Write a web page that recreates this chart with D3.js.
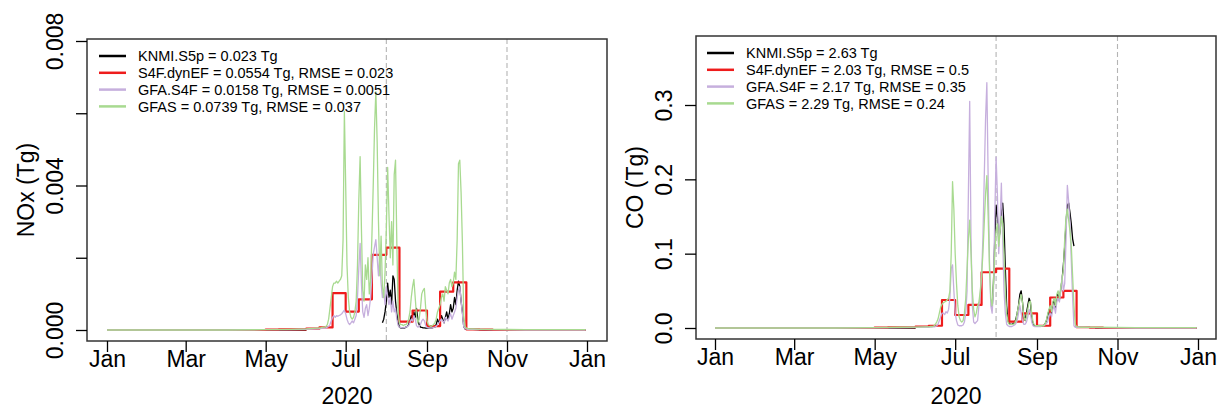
<!DOCTYPE html>
<html><head><meta charset="utf-8">
<script src="https://cdn.jsdelivr.net/npm/d3@7"></script>
<style>
body{margin:0;background:#fff}
svg{display:block}
text{font-family:"Liberation Sans",Arial,sans-serif;fill:#000}
</style>
</head><body>
<svg id="c" width="1218" height="410"></svg>
<script>
// ---------------- DATA ----------------
const seriesNames = ["KNMI.S5p", "S4F.dynEF", "GFA.S4F", "GFAS"];
const seriesColors = ["#000000", "#ee1c1c", "#c6afdd", "#a8da90"];

const noxLegend = ["KNMI.S5p = 0.023 Tg", "S4F.dynEF = 0.0554 Tg, RMSE = 0.023",
  "GFA.S4F = 0.0158 Tg, RMSE = 0.0051", "GFAS = 0.0739 Tg, RMSE = 0.037"];
const coLegend = ["KNMI.S5p = 2.63 Tg", "S4F.dynEF = 2.03 Tg, RMSE = 0.5",
  "GFA.S4F = 2.17 Tg, RMSE = 0.35", "GFAS = 2.29 Tg, RMSE = 0.24"];

const xTickDates = ["2020-01-01","2020-03-01","2020-05-01","2020-07-01","2020-09-01","2020-11-01","2021-01-01"];
const xTickLabels = ["Jan","Mar","May","Jul","Sep","Nov","Jan"];
const xTitle = "2020";
const markerDates = ["2020-08-01","2020-11-01"];

const noxTicks = [0, 0.002, 0.004, 0.006, 0.008];
const noxTickLabels = ["0.000", "", "0.004", "", "0.008"];
const coTicks = [0, 0.1, 0.2, 0.3];
const coTickLabels = ["0.0", "0.1", "0.2", "0.3"];

// dates of the line series: quiet period points, daily values 2020-06-09 .. 2020-10-06, quiet points after
const quietBefore = ["2020-01-01","2020-04-01","2020-05-01","2020-05-20","2020-06-01"];
const dailyStart = "2020-06-09";
const dailyCount = 120;
const quietAfter = ["2020-10-15","2020-11-15","2020-12-31"];

// S4F.dynEF is dekadal (10-day blocks, 36 per year)
const noxDynEF = [0,0,0, 0,0,0, 0,0,0, 0,0,0,
  0.00001,0.00002,0.00002, 0.00004,0.00007,0.00102, 0.00051,0.00085,0.00208,
  0.00228,0.00023,0.00054, 0.00011,0.00106,0.00132, 0.00002,0.00001,0, 0,0,0, 0,0,0];
const coDynEF = [0,0,0, 0,0,0, 0,0,0, 0,0,0,
  0.0005,0.001,0.001, 0.002,0.003,0.0377, 0.0175,0.031,0.075,
  0.08,0.0085,0.0197, 0.003,0.041,0.05, 0.001,0.0005,0, 0,0,0, 0,0,0];

const noxKNMI = [0,0,0,0,0,
  null,null,null,null,null,null,null,null,null,null,
  null,null,null,null,null,null,null,null,null,null,
  null,null,null,null,null,null,null,null,null,null,
  null,null,null,null,null,null,null,null,null,null,
  null,null,null,null,null,null,null,null,null,null,
  0.0002,0.0003,0.0005,0.0008,0.0013,0.0009,0.0011,0.0007,0.0015,0.0014,
  0.0008,0.00045,0.0002,0.00008,0.00006,0.00005,0.00005,0.00006,0.00008,0.0001,
  0.00015,0.00025,0.0004,0.0003,0.0005,0.00035,0.0006,0.0003,0.00015,0.00008,
  0.00007,0.00006,0.00006,0.00005,0.00005,0.00005,0.00005,0.00005,0.00006,0.00007,
  0.00008,0.00015,0.0003,0.0002,0.00025,0.0004,0.0003,0.0002,0.00035,0.0005,
  0.0003,0.00045,0.0007,0.0005,0.0006,0.0009,0.0007,0.0011,0.00135,0.0012,
  0.0008,0.0005,0.0001,0.00003,0.00002,0.00002,0.00002,0.00002,0.00002,0.00002,
  0,0,0];
const noxGFAS4F = [0,0,0.00001,0.00001,0.00002,
  0.00003,0.00003,0.00004,0.00004,0.00005,0.00005,0.00005,0.00006,0.00008,0.0001,
  0.00015,0.00025,0.00035,0.0004,0.00035,0.0004,0.00038,0.0004,0.00042,0.00045,
  0.0005,0.00055,0.00045,0.0003,0.0002,0.00015,0.0002,0.00025,0.0002,0.0003,
  0.0004,0.0009,0.0017,0.0024,0.0013,0.0005,0.00035,0.0006,0.0007,0.0004,
  0.0006,0.0009,0.0015,0.0021,0.0023,0.0025,0.002,0.0015,0.0021,0.0013,
  0.0009,0.0011,0.0007,0.0012,0.0009,0.0007,0.0009,0.0005,0.0008,0.0005,
  0.0006,0.0003,0.00012,0.00008,0.00007,0.00006,0.00006,0.00007,0.00008,0.0001,
  0.00012,0.0002,0.0003,0.00025,0.0004,0.0003,0.00012,0.00008,0.0001,0.00015,
  0.00025,0.0003,0.00025,0.00012,0.00007,0.00006,0.00005,0.00005,0.00006,0.00007,
  0.00008,0.0001,0.00015,0.0002,0.00025,0.0003,0.00025,0.0002,0.00035,0.0003,
  0.00025,0.00035,0.00045,0.0003,0.0004,0.0005,0.0006,0.0009,0.0011,0.0012,
  0.0008,0.00045,0.0001,0.00004,0.00003,0.00002,0.00002,0.00002,0.00002,0.00002,
  0.00001,0,0];
const noxGFAS = [0,0,0.00001,0.00002,0.00003,
  0.00005,0.00005,0.00006,0.00006,0.00007,0.00008,0.00008,0.0001,0.00015,0.0003,
  0.0006,0.0009,0.0012,0.0013,0.0013,0.00135,0.0013,0.00135,0.0014,0.0015,
  0.0025,0.00605,0.004,0.0018,0.0009,0.0005,0.00035,0.0003,0.00035,0.0005,
  0.0008,0.0018,0.0036,0.0048,0.0028,0.0011,0.0008,0.0018,0.0014,0.002,
  0.001,0.0014,0.0026,0.004,0.0056,0.0066,0.0052,0.003,0.0015,0.0026,
  0.0012,0.0009,0.0016,0.0028,0.0045,0.0032,0.002,0.003,0.0018,0.0043,
  0.0047,0.0024,0.0005,0.0002,0.00015,0.00015,0.00012,0.00015,0.00015,0.0002,
  0.0003,0.0005,0.0009,0.0012,0.0014,0.0009,0.0004,0.0002,0.0003,0.0006,
  0.001,0.0011,0.00115,0.0006,0.00025,0.00015,0.00012,0.0001,0.00012,0.00015,
  0.0002,0.0003,0.0005,0.0006,0.0007,0.0009,0.001,0.0008,0.0012,0.0011,
  0.001,0.0013,0.0014,0.0012,0.0013,0.0016,0.0014,0.0025,0.0046,0.0047,
  0.0038,0.0024,0.0004,0.0001,0.00005,0.00004,0.00003,0.00003,0.00003,0.00003,
  0.00002,0.00001,0.00001];

const coKNMI = [0,0,0,0,0,
  null,null,null,null,null,null,null,null,null,null,
  null,null,null,null,null,null,null,null,null,null,
  null,null,null,null,null,null,null,null,null,null,
  null,null,null,null,null,null,null,null,null,null,
  null,null,null,null,null,null,null,null,null,null,
  0.025,0.06,0.12,0.165,0.15,0.12,0.13,0.155,0.168,0.14,
  0.08,0.03,0.01,0.006,0.005,0.005,0.006,0.007,0.012,0.02,
  0.03,0.045,0.05,0.035,0.015,0.01,0.02,0.03,0.04,0.035,
  0.015,0.005,0.003,0.003,0.003,0.003,0.003,0.003,0.003,0.003,
  0.005,0.009,0.016,0.023,0.028,0.02,0.033,0.038,0.028,0.042,
  0.048,0.038,0.052,0.065,0.085,0.11,0.14,0.165,0.168,0.155,
  0.14,0.12,0.11,null,null,null,null,null,null,null,
  0,0,0];
const coGFAS4F = [0,0,0.0003,0.0006,0.0008,
  0.001,0.001,0.001,0.0012,0.0012,0.0015,0.0015,0.002,0.003,0.005,
  0.01,0.015,0.02,0.02,0.018,0.022,0.02,0.025,0.04,0.08,
  0.085,0.05,0.02,0.01,0.004,0.003,0.003,0.003,0.004,0.008,
  0.02,0.05,0.18,0.305,0.12,0.03,0.008,0.006,0.008,0.01,
  0.03,0.045,0.07,0.12,0.2,0.28,0.33,0.2,0.09,0.03,
  0.02,0.05,0.15,0.23,0.18,0.1,0.14,0.195,0.12,0.05,
  0.02,0.005,0.003,0.002,0.002,0.002,0.003,0.004,0.006,0.01,
  0.02,0.03,0.02,0.01,0.005,0.005,0.008,0.015,0.025,0.02,
  0.008,0.003,0.002,0.002,0.002,0.002,0.002,0.002,0.003,0.003,
  0.004,0.006,0.008,0.015,0.02,0.015,0.025,0.03,0.02,0.035,
  0.04,0.035,0.05,0.07,0.05,0.06,0.12,0.192,0.17,0.14,
  0.09,0.04,0.003,0.001,0.001,0.001,0.001,0.001,0.001,0.001,
  0.0005,0,0];
const coGFAS = [0,0,0.0005,0.001,0.0013,
  0.0015,0.0015,0.0015,0.002,0.002,0.002,0.003,0.005,0.008,0.012,
  0.02,0.028,0.032,0.034,0.035,0.036,0.038,0.04,0.05,0.1,
  0.197,0.16,0.1,0.06,0.03,0.015,0.01,0.008,0.01,0.02,
  0.04,0.08,0.12,0.145,0.1,0.05,0.025,0.015,0.02,0.03,
  0.035,0.05,0.07,0.1,0.14,0.18,0.205,0.15,0.08,0.04,
  0.03,0.06,0.1,0.13,0.14,0.11,0.13,0.15,0.14,0.1,
  0.05,0.02,0.008,0.005,0.005,0.005,0.005,0.006,0.01,0.02,
  0.03,0.038,0.045,0.035,0.015,0.01,0.015,0.025,0.035,0.036,
  0.02,0.008,0.004,0.003,0.003,0.003,0.003,0.003,0.003,0.003,
  0.005,0.01,0.018,0.025,0.03,0.022,0.035,0.04,0.03,0.045,
  0.05,0.04,0.055,0.065,0.08,0.12,0.15,0.16,0.145,0.13,
  0.11,0.07,0.03,0.005,0.002,0.0015,0.0015,0.001,0.001,0.001,
  0.001,0.0005,0.0005];

// ---------------- CHART ----------------
const parse = d3.timeParse("%Y-%m-%d");
const d0 = parse(dailyStart);
const lineDates = [...quietBefore.map(parse), ...d3.timeDay.range(d0, d3.timeDay.offset(d0, dailyCount)), ...quietAfter.map(parse)];
const dekadDates = d3.range(12).flatMap(m => [1, 11, 21].map(d => new Date(2020, m, d)));
const yearEnd = parse("2020-12-31");

const svg = d3.select("#c");
const FONT = 23, LEG = 14.5;

const panels = [
  { box: [87, 39, 607, 341], xr: [107, 587], yd: [0, 0.008], yr: [330, 41], ticks: noxTicks, tickLabels: noxTickLabels,
    title: "NOx (Tg)", titleX: 34, legend: noxLegend, legX: 99, legY: 56, legDy: 16.8,
    series: [noxKNMI, noxDynEF, noxGFAS4F, noxGFAS] },
  { box: [696, 36, 1216, 339], xr: [715, 1198], yd: [0, 0.3], yr: [328, 105], ticks: coTicks, tickLabels: coTickLabels,
    title: "CO (Tg)", titleX: 643, legend: coLegend, legX: 707, legY: 53, legDy: 16.8,
    series: [coKNMI, coDynEF, coGFAS4F, coGFAS] }
];

panels.forEach(p => {
  const [bx0, by0, bx1, by1] = p.box;
  const x = d3.scaleTime().domain([parse("2020-01-01"), parse("2021-01-01")]).range(p.xr);
  const y = d3.scaleLinear().domain(p.yd).range(p.yr);
  const g = svg.append("g");

  // dashed markers
  g.selectAll(".mk").data(markerDates).join("line")
    .attr("x1", d => x(parse(d))).attr("x2", d => x(parse(d)))
    .attr("y1", by0).attr("y2", by1)
    .attr("stroke", "#b4b4b4").attr("stroke-width", 1.1).attr("stroke-dasharray", "5,3");

  // series
  const line = d3.line().defined(d => d[1] !== null).x(d => x(d[0])).y(d => y(d[1]));
  const step = d3.line().curve(d3.curveStepAfter).x(d => x(d[0])).y(d => y(d[1]));
  p.series.forEach((vals, i) => {
    let path;
    if (i === 1) {
      const pts = dekadDates.map((d, k) => [d, vals[k]]);
      pts.push([yearEnd, vals[vals.length - 1]]);
      path = step(pts);
    } else {
      path = line(lineDates.map((d, k) => [d, vals[k]]));
    }
    g.append("path").attr("d", path).attr("fill", "none")
      .attr("stroke", seriesColors[i]).attr("stroke-width", i === 1 ? 2.2 : 1.3)
      .attr("stroke-linejoin", "round");
  });

  // box
  g.append("rect").attr("x", bx0).attr("y", by0).attr("width", bx1 - bx0).attr("height", by1 - by0)
    .attr("fill", "none").attr("stroke", "#333").attr("stroke-width", 1.5);

  // y axis
  const ya = g.append("g").attr("transform", `translate(${bx0},0)`)
    .call(d3.axisLeft(y).tickValues(p.ticks).tickSize(11).tickFormat((d, i) => p.tickLabels[i]));
  ya.select(".domain").remove();
  ya.selectAll(".tick line").attr("stroke", "#000").attr("stroke-width", 1.3);
  ya.selectAll(".tick text").attr("x", 0).attr("y", -24).attr("dy", 0)
    .attr("transform", "rotate(-90)").attr("text-anchor", "middle")
    .style("font-size", FONT + "px").style("font-family", "'Liberation Sans',Arial,sans-serif").attr("fill", "#000");

  // x axis
  const xa = g.append("g").attr("transform", `translate(0,${by1})`)
    .call(d3.axisBottom(x).tickValues(xTickDates.map(parse)).tickSize(11).tickFormat((d, i) => xTickLabels[i]));
  xa.select(".domain").remove();
  xa.selectAll(".tick line").attr("stroke", "#000").attr("stroke-width", 1.3);
  xa.selectAll(".tick text").attr("y", 26).attr("dy", 0)
    .style("font-size", FONT + "px").style("font-family", "'Liberation Sans',Arial,sans-serif").attr("fill", "#000");

  // titles
  g.append("text").attr("x", (bx0 + bx1) / 2).attr("y", 404).attr("text-anchor", "middle")
    .style("font-size", FONT + "px").text(xTitle);
  g.append("text").attr("transform", `translate(${p.titleX},${(by0 + by1) / 2}) rotate(-90)`)
    .attr("text-anchor", "middle").style("font-size", FONT + "px").text(p.title);

  // legend
  const lg = g.append("g");
  p.legend.forEach((t, i) => {
    const yy = p.legY + i * p.legDy;
    lg.append("line").attr("x1", p.legX).attr("x2", p.legX + 27).attr("y1", yy).attr("y2", yy)
      .attr("stroke", seriesColors[i]).attr("stroke-width", 2.5);
    lg.append("text").attr("x", p.legX + 39).attr("y", yy + 5.3)
      .style("font-size", LEG + "px").text(t);
  });
});
</script>
</body></html>
